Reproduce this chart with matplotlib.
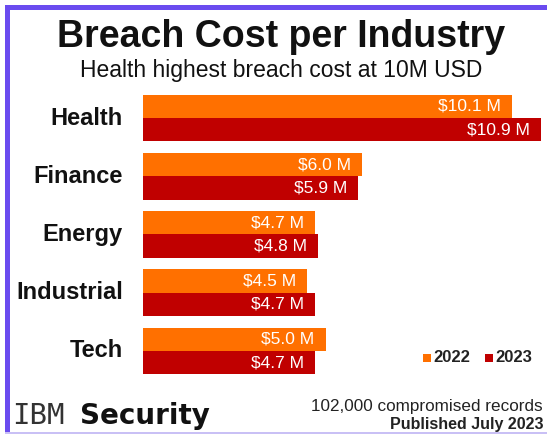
import matplotlib.pyplot as plt
from matplotlib.patches import Rectangle
from matplotlib.transforms import blended_transform_factory

# data
industries = ["Health", "Finance", "Energy", "Industrial", "Tech"]
cost_2022 = [10.1, 6.0, 4.7, 4.5, 5.0]
cost_2023 = [10.9, 5.9, 4.8, 4.7, 4.7]
years = ["2022", "2023"]
colors = ["#FF7000", "#C00000"]

plt.rcParams['font.family'] = ['Liberation Sans', 'DejaVu Sans']

W, H = 547, 434
fig = plt.figure(figsize=(W / 100, H / 100), dpi=100)
fig.patch.set_facecolor("white")

# frame borders (purple on top and left, faint at bottom)
fig.add_artist(Rectangle((5 / W, 1 - 10 / H), 1, 5 / H, transform=fig.transFigure,
                         color="#6A4BEF", lw=0))
fig.add_artist(Rectangle((5 / W, 0), 5 / W, 1 - 5 / H, transform=fig.transFigure,
                         color="#6A4BEF", lw=0))
fig.add_artist(Rectangle((5 / W, 0), 1, 2 / H, transform=fig.transFigure,
                         color="#C9C0F5", lw=0))

# titles
fig.text(281 / W, 1 - 37 / H, "Breach Cost per Industry", ha="center", va="center",
         fontsize=27, fontweight="bold", color="#111111")
fig.text(281 / W, 1 - 70 / H, "Health highest breach cost at 10M USD", ha="center",
         va="center", fontsize=16.5, color="#111111")

# bar axes
ax = fig.add_axes([143 / W, 1 - 380 / H, (541 - 143) / W, (380 - 89) / H])
ypos = list(range(len(industries)))
h = 0.4
for vals, col, off in [(cost_2022, colors[0], -h / 2), (cost_2023, colors[1], h / 2)]:
    ys = [y + off for y in ypos]
    ax.barh(ys, vals, height=h, color=col)
    for y, v in zip(ys, vals):
        ax.text(v - 0.3, y, f"${v:.1f} M", ha="right", va="center",
                color="white", fontsize=12.5)

ax.set_xlim(0, max(cost_2023 + cost_2022))
ax.set_ylim(len(industries) - 0.5, -0.5)
ax.axis("off")

trans = blended_transform_factory(fig.transFigure, ax.transData)
for y, name in zip(ypos, industries):
    fig.text(123 / W, y, name, transform=trans, ha="right", va="center",
             fontsize=17, fontweight="bold", color="#111111")

# legend
for x, lab, col in [(428, years[0], colors[0]), (490, years[1], colors[1])]:
    fig.add_artist(Rectangle(((x - 5) / W, 1 - 362 / H), 8 / W, 8 / H,
                             transform=fig.transFigure, color=col, lw=0))
    fig.text((x + 5) / W, 1 - 358 / H, lab, ha="left", va="center",
             fontsize=12, fontweight="bold", color="#222222")

# footer
fig.text(12 / W, 1 - 416 / H, "IBM", ha="left", va="center", fontsize=21,
         fontfamily="DejaVu Sans Mono", color="#333333")
fig.text(80 / W, 1 - 416 / H, "Security", ha="left", va="center", fontsize=20,
         fontfamily="DejaVu Sans", fontweight="bold", color="#111111")
fig.text(543 / W, 1 - 406 / H, "102,000 compromised records", ha="right", va="center",
         fontsize=12.3, color="#222222")
fig.text(543 / W, 1 - 424 / H, "Published July 2023", ha="right", va="center",
         fontsize=11.5, fontweight="bold", color="#222222")

fig.savefig("out.png", dpi=100)
